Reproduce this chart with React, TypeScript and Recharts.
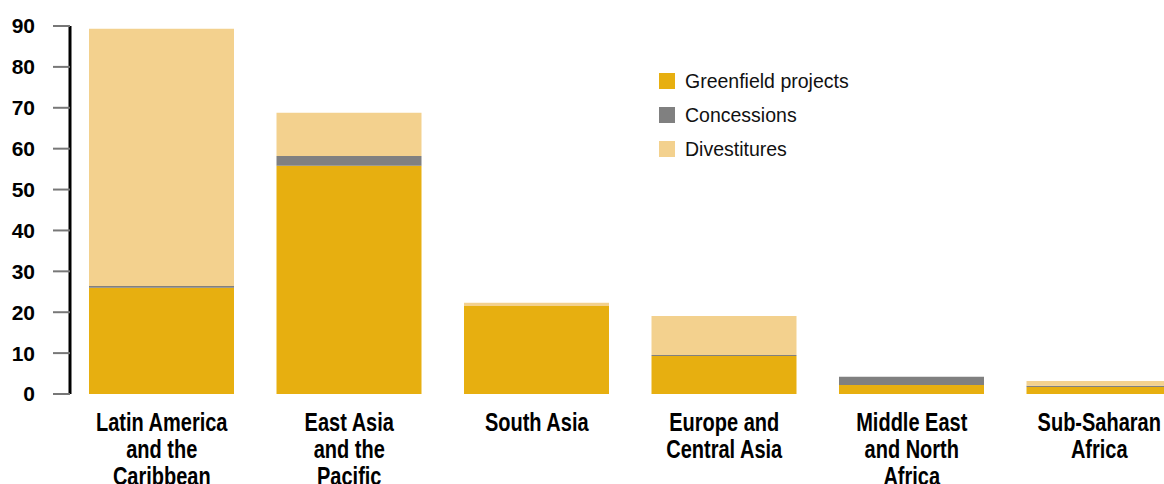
import { BarChart, Bar, XAxis, YAxis, Legend } from 'recharts';

const regions = [
  'Latin America\nand the\nCaribbean',
  'East Asia\nand the\nPacific',
  'South Asia',
  'Europe and\nCentral Asia',
  'Middle East\nand North\nAfrica',
  'Sub-Saharan\nAfrica',
];
const greenfield = [26.0, 55.8, 21.5, 9.3, 2.2, 1.7];
const concessions = [0.4, 2.4, 0, 0.25, 2.0, 0.3];
const divestitures = [62.9, 10.6, 0.8, 9.5, 0, 1.2];
const yTicks = [0, 10, 20, 30, 40, 50, 60, 70, 80, 90];
const seriesOrder = ['Greenfield projects', 'Concessions', 'Divestitures'];

const data = regions.map((region, i) => ({
  region,
  greenfield: greenfield[i],
  concessions: concessions[i],
  divestitures: divestitures[i],
}));

const textFont = "'Liberation Sans', Arial, sans-serif";

// condensed bold category labels (no narrow font installed, so squeeze horizontally)
const RegionTick = (props: any) => {
  const { x, y, payload } = props;
  const lines = String(payload.value).split('\n');
  return (
    <g transform={`translate(${x},${y}) scale(0.8,1)`}>
      {lines.map((line: string, i: number) => (
        <text
          key={i}
          x={0}
          y={29 + i * 27}
          textAnchor="middle"
          fill="#000"
          fontSize={25}
          fontWeight="bold"
          fontFamily={textFont}
        >
          {line}
        </text>
      ))}
    </g>
  );
};

const LegendBox = (props: any) => {
  const items = [...(props.payload || [])].sort(
    (a: any, b: any) => seriesOrder.indexOf(a.value) - seriesOrder.indexOf(b.value)
  );
  return (
    <div>
      {items.map((entry: any) => (
        <div
          key={entry.value}
          style={{ display: 'flex', alignItems: 'center', height: 34, fontFamily: textFont, fontSize: 19.5, color: '#111' }}
        >
          <span style={{ display: 'inline-block', width: 16, height: 16, background: entry.color, marginRight: 10 }} />
          {entry.value}
        </div>
      ))}
    </div>
  );
};

export default function App() {
  return (
    <div style={{ position: 'fixed', left: 0, top: 0, width: 1164, height: 484, overflow: 'hidden', background: '#fff' }}>
      <BarChart width={1193} height={484} data={data} margin={{ top: 26, right: 0, bottom: 0, left: 0 }}>
        <YAxis
          domain={[0, 90]}
          ticks={yTicks}
          width={70}
          axisLine={{ stroke: '#000', strokeWidth: 3 }}
          tickLine={{ stroke: '#777', strokeWidth: 2 }}
          tickSize={17}
          tickMargin={18}
          tick={{ fill: '#000', fontSize: 21, fontWeight: 'bold', fontFamily: textFont }}
          allowDataOverflow
        />
        <XAxis
          dataKey="region"
          axisLine={false}
          tickLine={false}
          height={90}
          interval={0}
          padding={{ left: -2, right: 0 }}
          tick={<RegionTick />}
        />
        <Legend
          layout="vertical"
          verticalAlign="middle"
          align="center"
          wrapperStyle={{ position: 'absolute', left: 659, top: 64, width: 260 }}
          content={<LegendBox />}
        />
        <Bar dataKey="greenfield" name="Greenfield projects" stackId="a" fill="#E7AF10" barSize={145} isAnimationActive={false} />
        <Bar dataKey="concessions" name="Concessions" stackId="a" fill="#808080" barSize={145} isAnimationActive={false} />
        <Bar dataKey="divestitures" name="Divestitures" stackId="a" fill="#F3D18E" barSize={145} isAnimationActive={false} />
      </BarChart>
    </div>
  );
}
